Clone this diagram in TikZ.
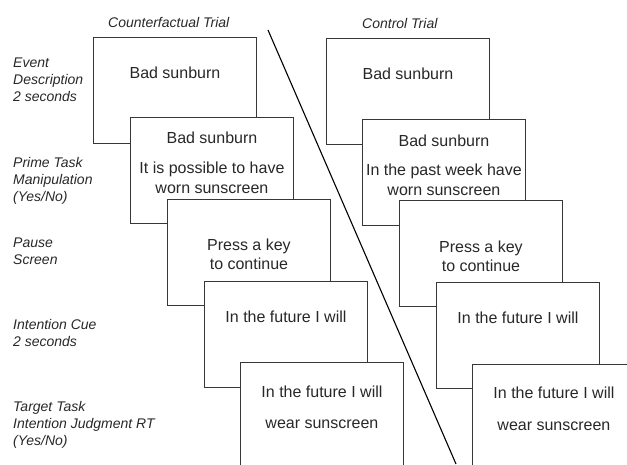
\documentclass[tikz,border=0pt]{standalone}
\usepackage{fontspec}
\setmainfont{Liberation Sans}
\usetikzlibrary{positioning}
\usepackage{xcolor}
\definecolor{edge}{RGB}{55,55,55}
\definecolor{ink}{RGB}{40,40,40}

\begin{document}
\begin{tikzpicture}[x=1pt,y=-1pt,
  screen/.style={draw=edge,fill=white,line width=0.9pt,minimum width=163pt,
                 minimum height=106pt,inner sep=0pt,anchor=north west},
  txt/.style={font=\fontsize{16}{20}\selectfont,text=ink,inner sep=0pt,
              anchor=base,align=center},
  lbl/.style={font=\fontsize{14}{17}\selectfont\itshape,text=ink,inner sep=0pt,
              anchor=north west,align=left},
  divider/.style={black,line width=1.1pt}
]
\useasboundingbox (0,0) rectangle (627,464);
\clip (0,0) rectangle (627,464);

% row labels and column titles
\node[lbl] (evt)   at (13,58)  {Event\\Description\\2 seconds};
\node[lbl] (prime) at (13,157) {Prime Task\\Manipulation\\(Yes/No)};
\node[lbl] (pause) at (13,238) {Pause\\Screen};
\node[lbl] (cue)   at (13,319) {Intention Cue\\2 seconds};
\node[lbl] (tgt)   at (13,401) {Target Task\\Intention Judgment RT\\(Yes/No)};
\node[lbl] (cftitle) at (108,17) {Counterfactual Trial};
\node[lbl] (cttitle) at (362,18) {Control Trial};

% counterfactual trial
\node[screen] (cf1) at (93,37)   {};
\node[txt] (cf1t) at ([yshift=-41pt]cf1.north) {Bad sunburn};
\node[screen] (cf2) at (130,117) {};
\node[txt] (cf2t) at ([yshift=-26pt]cf2.north) {Bad sunburn};
\node[txt] (cf2q) at ([yshift=-76pt]cf2.north) {It is possible to have\\worn sunscreen};
\node[screen] (cf3) at (167,199) {};
\node[txt] (cf3t) at ([yshift=-70pt]cf3.north) {Press a key\\[-1.5pt]to continue};
\node[screen] (cf4) at (204,281) {};
\node[txt] (cf4t) at ([yshift=-41pt]cf4.north) {In the future I will};
\node[screen] (cf5) at (240,362) {};
\node[txt] (cf5t) at ([yshift=-35pt]cf5.north) {In the future I will};
\node[txt] (cf5q) at ([yshift=-66pt]cf5.north) {wear sunscreen};

% control trial
\node[screen] (ct1) at (326,38)  {};
\node[txt] (ct1t) at ([yshift=-41pt]ct1.north) {Bad sunburn};
\node[screen] (ct2) at (362,119) {};
\node[txt] (ct2t) at ([yshift=-27pt]ct2.north) {Bad sunburn};
\node[txt] (ct2q) at ([yshift=-76pt]ct2.north) {In the past week have\\worn sunscreen};
\node[screen] (ct3) at (399,200) {};
\node[txt] (ct3t) at ([yshift=-71pt]ct3.north) {Press a key\\[-1.5pt]to continue};
\node[screen] (ct4) at (436,282) {};
\node[txt] (ct4t) at ([yshift=-41pt]ct4.north) {In the future I will};
\node[screen] (ct5) at (472,364) {};
\node[txt] (ct5t) at ([yshift=-34pt]ct5.north) {In the future I will};
\node[txt] (ct5q) at ([yshift=-66pt]ct5.north) {wear sunscreen};

% dividing line
\coordinate (divtop) at (268,30);
\coordinate (divbot) at (456,464);
\draw[divider] (divtop) -- (divbot);
\end{tikzpicture}
\end{document}
